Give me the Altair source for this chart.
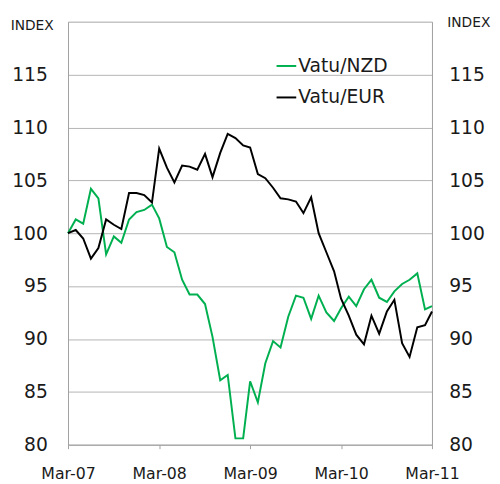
import altair as alt
import pandas as pd

months = pd.date_range("2007-03-01", periods=49, freq="MS").strftime("%Y-%m-%d").tolist()
series_names = ["Vatu/NZD", "Vatu/EUR"]
series_colors = ["#00B050", "#000000"]

nzd = [100.0, 101.3, 100.9, 104.2, 103.3, 98.0, 99.7, 99.1, 101.3, 102.0, 102.2, 102.7,
       101.4, 98.7, 98.2, 95.6, 94.2, 94.2, 93.3, 90.2, 86.1, 86.6, 80.6, 80.6,
       86.0, 84.0, 87.7, 89.8, 89.2, 92.1, 94.1, 93.9, 91.9, 94.1, 92.5, 91.7,
       92.9, 94.0, 93.1, 94.7, 95.6, 93.9, 93.5, 94.5, 95.2, 95.6, 96.2, 92.8, 93.1]
eur = [100.0, 100.3, 99.5, 97.6, 98.6, 101.3, 100.8, 100.4, 103.8, 103.8, 103.6, 102.9,
       108.0, 106.2, 104.8, 106.4, 106.3, 106.0, 107.5, 105.3, 107.6, 109.4, 109.0, 108.3,
       108.1, 105.6, 105.2, 104.3, 103.3, 103.2, 103.0, 101.9, 103.4, 100.0, 98.2, 96.4,
       93.8, 92.2, 90.4, 89.5, 92.2, 90.5, 92.6, 93.7, 89.6, 88.3, 91.1, 91.3, 92.6]

tick_years = [2007, 2008, 2009, 2010, 2011]
y_ticks = [80, 85, 90, 95, 100, 105, 110, 115, 120]

df = pd.DataFrame({
    "date": months * 2,
    "value": nzd + eur,
    "series": [series_names[0]] * len(nzd) + [series_names[1]] * len(eur),
})

FONT = "DejaVu Sans"
TXT = "#1a1a1a"
GRID = "#b4b4b4"
FRAME = "#a0a0a0"

x_enc = alt.X(
    "date:T",
    scale=alt.Scale(type="utc",
                    domain=[alt.DateTime(year=2007, month=3, date=1, utc=True),
                            alt.DateTime(year=2011, month=3, date=1, utc=True)]),
    axis=alt.Axis(
        values=[alt.DateTime(year=y, month=3, date=1, utc=True) for y in tick_years],
        labelExpr="utcFormat(datum.value, '%b-%y')", title=None, grid=False,
        labelAlign="center", labelFlush=False,
        tickSize=4, tickColor=FRAME, domainColor=FRAME,
        labelFont=FONT, labelFontSize=16, labelColor=TXT, labelPadding=17,
    ),
)

y_scale = alt.Scale(domain=[80, 120], nice=False, zero=False)
label_expr = "datum.value == 120 ? '' : datum.label"

left_axis = alt.Axis(
    values=y_ticks, grid=True, gridColor=GRID, tickSize=0, domainColor=FRAME,
    labelFont=FONT, labelFontSize=19, labelColor=TXT, labelPadding=21, labelExpr=label_expr,
    title="INDEX", titleAngle=0, titleAlign="right", titleBaseline="middle",
    titleX=-15, titleY=4, titleFont=FONT, titleFontSize=14, titleFontWeight="normal", titleColor=TXT,
)
right_axis = alt.Axis(
    orient="right", values=y_ticks, grid=False, tickSize=0, domainColor=FRAME,
    labelFont=FONT, labelFontSize=19, labelColor=TXT, labelPadding=17, labelExpr=label_expr,
    title="INDEX", titleAngle=0, titleAlign="left", titleBaseline="middle",
    titleX=15, titleY=1, titleFont=FONT, titleFontSize=14, titleFontWeight="normal", titleColor=TXT,
)

lines = alt.Chart(df).mark_line(strokeWidth=2).encode(
    x=x_enc,
    y=alt.Y("value:Q", scale=y_scale, axis=left_axis),
    color=alt.Color(
        "series:N", sort=series_names,
        scale=alt.Scale(domain=series_names, range=series_colors),
        legend=alt.Legend(
            title=None, orient="none", legendX=211, legendY=34, padding=0,
            symbolType="stroke", symbolSize=400, symbolStrokeWidth=2,
            labelFont=FONT, labelFontSize=19, labelColor=TXT, labelOffset=1,
            rowPadding=11,
        ),
    ),
)

right = alt.Chart(df).mark_line(opacity=0).encode(
    x=x_enc,
    y=alt.Y("value:Q", scale=y_scale, axis=right_axis),
    detail="series:N",
)

chart = alt.layer(lines, right).resolve_axis(y="independent").properties(
    width=370, height=430,
    autosize=alt.AutoSizeParams(type="none"),
    padding={"left": 61, "top": 10, "right": 61, "bottom": 36},
).configure_view(stroke=FRAME, strokeWidth=1).configure(background="white")

chart.save("out.html", embed_options={"renderer": "svg", "actions": False})
